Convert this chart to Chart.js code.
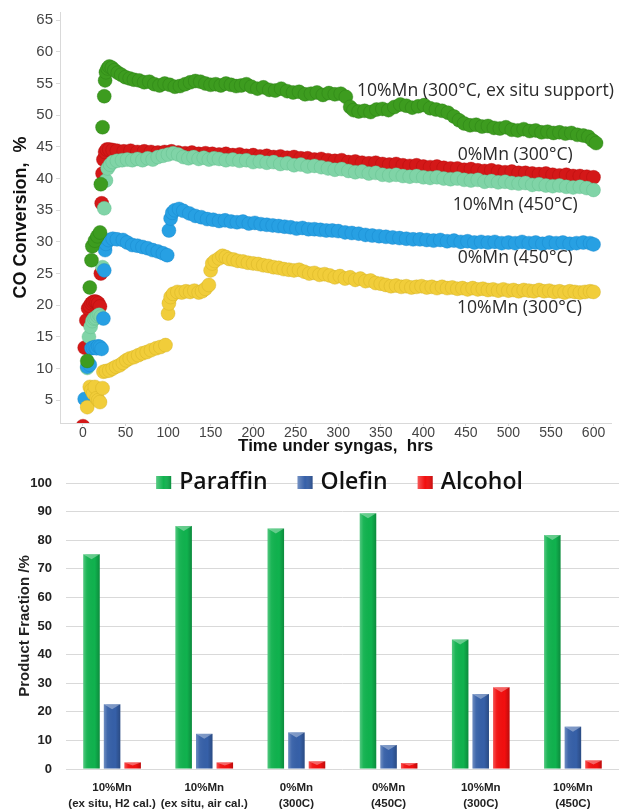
<!DOCTYPE html>
<html>
<head>
<meta charset="utf-8">
<script src="https://cdn.jsdelivr.net/npm/chart.js@4.4.1/dist/chart.umd.min.js"></script>
<style>
  html, body { margin: 0; padding: 0; background: #ffffff; }
  #wrap { position: relative; width: 619px; height: 810px; overflow: hidden; }
  #conv { position: absolute; left: 0; top: 0; }
  #frac { position: absolute; left: 0; top: 456px; }
</style>
</head>
<body>
<div id="wrap">
  <canvas id="conv" width="619" height="462"></canvas>
  <canvas id="frac" width="619" height="354"></canvas>
</div>
<script>
// ---------- CO conversion vs. time on stream ----------
const timeTicks = [0, 50, 100, 150, 200, 250, 300, 350, 400, 450, 500, 550, 600];
const convTicks = [5, 10, 15, 20, 25, 30, 35, 40, 45, 50, 55, 60, 65];

// 10%Mn (300°C, ex situ support)
const tExSitu = [5, 8, 10, 11, 14, 17, 20, 21, 23, 25, 26, 27, 29, 31, 34, 37, 41, 45, 50, 55, 60, 66, 72, 78, 84, 90, 96, 102, 108, 114, 120, 126, 132, 138, 144, 150, 156, 162, 168, 174, 180, 186, 192, 198, 205, 212, 219, 226, 233, 240, 247, 254, 261, 268, 275, 282, 289, 296, 303, 309, 314, 318, 324, 331, 338, 345, 352, 359, 366, 373, 380, 387, 394, 401, 408, 415, 422, 429, 436, 442, 448, 455, 462, 469, 476, 483, 490, 497, 504, 511, 518, 525, 532, 539, 546, 553, 560, 567, 574, 581, 588, 594, 599, 603];
const cExSitu = [11.2, 22.8, 27.1, 29.3, 30.2, 30.9, 31.5, 39.1, 48.1, 53.0, 55.5, 56.8, 57.4, 57.7, 57.5, 57.1, 56.7, 56.4, 56.0, 55.8, 55.6, 55.5, 55.2, 55.3, 54.9, 54.7, 55.0, 54.8, 54.5, 54.6, 54.9, 55.2, 55.4, 55.3, 55.0, 54.8, 54.9, 54.7, 55.0, 54.8, 54.6, 54.7, 54.9, 54.5, 54.2, 54.4, 54.0, 53.9, 54.2, 53.8, 53.6, 53.7, 53.3, 53.4, 53.6, 53.2, 53.5, 53.3, 53.4, 52.9, 51.3, 50.8, 50.6, 50.7, 50.5, 50.9, 51.0, 50.8, 51.3, 51.7, 51.5, 51.2, 51.4, 51.6, 51.1, 50.9, 50.7, 50.4, 49.8, 49.2, 48.7, 48.4, 48.5, 48.2, 48.3, 48.0, 47.9, 48.1, 47.7, 47.6, 47.8, 47.5, 47.6, 47.3, 47.4, 47.2, 47.3, 47.1, 47.2, 46.9, 46.8, 46.6, 46.0, 45.6];

// 0%Mn (300°C)
const tMn0Low = [0, 2, 4, 6, 8, 10, 12, 14, 16, 18, 20, 21, 22, 23, 24, 26, 28, 31, 35, 40, 48, 56, 64, 72, 80, 88, 96, 104, 112, 120, 128, 136, 144, 152, 160, 168, 176, 184, 192, 200, 208, 216, 224, 232, 240, 248, 256, 264, 272, 280, 288, 296, 304, 312, 320, 328, 336, 344, 352, 360, 368, 376, 384, 392, 400, 408, 416, 424, 432, 440, 448, 456, 464, 472, 480, 488, 496, 504, 512, 520, 528, 536, 544, 552, 560, 568, 576, 584, 592, 600];
const cMn0Low = [0.9, 13.3, 17.6, 19.5, 19.9, 20.3, 20.5, 20.6, 20.5, 20.3, 19.8, 25.0, 36.1, 40.8, 43.0, 44.2, 44.6, 44.6, 44.5, 44.4, 44.3, 44.4, 44.2, 44.3, 44.2, 44.1, 44.2, 44.3, 44.1, 44.0, 44.1, 43.9, 44.0, 43.9, 43.8, 43.9, 43.7, 43.8, 43.6, 43.7, 43.5, 43.6, 43.4, 43.5, 43.3, 43.4, 43.2, 43.2, 43.0, 43.1, 42.9, 42.8, 42.9, 42.6, 42.7, 42.5, 42.4, 42.5, 42.3, 42.2, 42.3, 42.1, 42.0, 42.1, 41.9, 41.8, 41.9, 41.7, 41.6, 41.6, 41.4, 41.5, 41.3, 41.2, 41.3, 41.1, 41.0, 41.1, 40.9, 40.9, 40.8, 40.7, 40.8, 40.6, 40.5, 40.6, 40.4, 40.4, 40.3, 40.2];

// 10%Mn (450°C)
const tMn10High = [5, 7, 9, 11, 13, 15, 17, 19, 21, 23, 25, 27, 29, 32, 35, 40, 46, 52, 58, 64, 70, 76, 82, 88, 94, 100, 106, 112, 118, 124, 130, 136, 142, 148, 154, 160, 168, 176, 184, 192, 200, 208, 216, 224, 232, 240, 248, 256, 264, 272, 280, 288, 296, 304, 312, 320, 328, 336, 344, 352, 360, 368, 376, 384, 392, 400, 408, 416, 424, 432, 440, 448, 456, 464, 472, 480, 488, 496, 504, 512, 520, 528, 536, 544, 552, 560, 568, 576, 584, 592, 600];
const cMn10High = [10.1, 15.0, 16.6, 17.5, 17.9, 18.0, 18.3, 18.5, 18.2, 26.0, 35.3, 39.7, 41.6, 42.2, 42.6, 42.8, 42.9, 43.0, 42.9, 43.1, 42.9, 43.2, 43.0, 43.4, 43.6, 43.8, 44.0, 43.8, 43.4, 43.2, 43.4, 43.1, 43.3, 43.0, 43.2, 43.1, 42.9, 43.0, 42.8, 42.9, 42.6, 42.7, 42.5, 42.6, 42.3, 42.4, 42.1, 42.2, 41.9, 42.0, 41.8, 41.6, 41.4, 41.5, 41.2, 41.0, 41.1, 40.8, 40.9, 40.6, 40.5, 40.6, 40.4, 40.3, 40.4, 40.2, 40.1, 40.2, 40.0, 39.9, 40.0, 39.8, 39.7, 39.8, 39.5, 39.6, 39.4, 39.5, 39.3, 39.2, 39.3, 39.0, 39.1, 38.9, 38.8, 38.9, 38.7, 38.6, 38.7, 38.5, 38.2];

// 0%Mn (450°C)
const tMn0High = [2, 5, 8, 10, 12, 14, 16, 18, 20, 22, 24, 25, 26, 27, 30, 35, 40, 47, 52, 58, 64, 70, 76, 82, 88, 94, 99, 101, 103, 105, 108, 113, 118, 125, 132, 139, 146, 153, 160, 167, 174, 181, 188, 195, 202, 209, 216, 223, 230, 237, 244, 251, 258, 265, 272, 279, 286, 293, 300, 308, 316, 324, 332, 340, 348, 356, 364, 372, 380, 388, 396, 404, 412, 420, 428, 436, 444, 452, 460, 468, 476, 484, 492, 500, 508, 516, 524, 532, 540, 548, 556, 564, 572, 580, 588, 596, 600];
const cMn0High = [5.2, 10.3, 10.6, 13.2, 13.3, 13.4, 13.2, 13.5, 13.4, 13.1, 17.9, 25.5, 28.7, 29.7, 30.3, 30.5, 30.4, 30.3, 29.9, 29.5, 29.4, 29.2, 29.0, 28.7, 28.5, 28.2, 27.9, 31.8, 33.7, 34.6, 35.0, 35.2, 34.9, 34.5, 34.1, 33.9, 33.6, 33.5, 33.3, 33.4, 33.2, 33.1, 33.2, 32.9, 33.0, 32.8, 32.7, 32.6, 32.5, 32.4, 32.3, 32.1, 32.2, 32.0, 32.0, 31.9, 31.8, 31.8, 31.7, 31.5, 31.4, 31.3, 31.1, 31.0, 30.9, 30.8, 30.7, 30.6, 30.5, 30.4, 30.4, 30.3, 30.2, 30.3, 30.1, 30.2, 30.0, 30.1, 29.9, 30.0, 29.9, 30.0, 29.8, 29.9, 29.8, 30.0, 29.8, 29.9, 29.7, 29.9, 29.8, 29.9, 29.7, 29.8, 29.9, 29.8, 29.6];

// 10%Mn (300°C)
const tMn10Low = [5, 8, 10, 12, 14, 16, 18, 20, 23, 24, 27, 31, 35, 39, 43, 47, 51, 55, 60, 65, 70, 75, 80, 86, 91, 97, 100, 101, 103, 106, 111, 116, 121, 126, 131, 136, 140, 144, 148, 150, 152, 155, 160, 164, 168, 172, 177, 182, 188, 194, 200, 206, 212, 218, 224, 230, 236, 242, 248, 254, 260, 266, 272, 278, 284, 290, 296, 302, 308, 314, 320, 326, 332, 338, 344, 350, 356, 362, 368, 374, 380, 386, 392, 398, 404, 410, 416, 422, 428, 434, 440, 446, 452, 458, 464, 470, 476, 482, 488, 494, 500, 506, 512, 518, 524, 530, 536, 542, 548, 554, 560, 566, 572, 578, 584, 590, 596, 600];
const cMn10Low = [3.9, 7.1, 6.6, 6.1, 7.1, 5.3, 5.0, 4.7, 6.9, 9.5, 9.6, 9.7, 10.0, 10.3, 10.5, 10.9, 11.3, 11.6, 11.8, 12.1, 12.4, 12.6, 12.9, 13.2, 13.4, 13.7, 18.7, 20.3, 21.3, 21.8, 22.1, 22.0, 22.2, 22.1, 22.3, 22.0, 22.2, 22.6, 23.2, 25.5, 26.6, 27.0, 27.4, 27.8, 27.6, 27.3, 27.2, 27.0, 26.9, 26.7, 26.6, 26.5, 26.3, 26.2, 26.0, 25.9, 25.7, 25.6, 25.5, 25.6, 25.3, 25.0, 25.1, 24.8, 24.9, 24.7, 24.4, 24.6, 24.2, 24.4, 24.0, 24.2, 23.8, 23.9, 23.5, 23.4, 23.2, 23.0, 23.1, 22.9, 23.0, 22.8, 22.9, 23.0, 22.8, 22.9, 22.7, 22.9, 22.7, 22.8, 22.6, 22.7, 22.5, 22.7, 22.5, 22.6, 22.4, 22.5, 22.3, 22.5, 22.3, 22.4, 22.2, 22.4, 22.3, 22.2, 22.4, 22.2, 22.3, 22.1, 22.2, 22.0, 22.2, 22.1, 22.0, 22.1, 22.2, 22.1];

// ---------- Product distribution ----------
const catalysts = [
  ['10%Mn', '(ex situ, H2 cal.)'],
  ['10%Mn', '(ex situ, air cal.)'],
  ['0%Mn', '(300C)'],
  ['0%Mn', '(450C)'],
  ['10%Mn', '(300C)'],
  ['10%Mn', '(450C)']
];
const paraffin = [75.1, 85.0, 84.1, 89.4, 45.3, 81.8];
const olefin   = [22.6, 12.3, 12.8, 8.4, 26.2, 14.8];
const alcohol  = [2.3, 2.3, 2.7, 2.1, 28.6, 3.0];
const fracTicks = [0, 10, 20, 30, 40, 50, 60, 70, 80, 90, 100];

// ---------- helpers ----------
const toPoints = (ts, cs) => ts.map((t, i) => ({ x: t, y: cs[i] }));
const fixedTicks = list => scale => { scale.ticks = list.map(v => ({ value: v })); };

// Series drawn first in this list end up on top.
const series = [
  { name: '10%Mn (300°C, ex situ support)', t: tExSitu,   c: cExSitu,   fill: '#3d9c1f', edge: 'rgba(40,120,20,0.6)' },
  { name: '10%Mn (300°C)',                  t: tMn10Low,  c: cMn10Low,  fill: '#f1cd3a', edge: 'rgba(205,170,30,0.6)' },
  { name: '0%Mn (450°C)',                   t: tMn0High,  c: cMn0High,  fill: '#27a0e3', edge: 'rgba(20,130,200,0.6)' },
  { name: '10%Mn (450°C)',                  t: tMn10High, c: cMn10High, fill: '#80d4a7', edge: 'rgba(90,185,135,0.6)' },
  { name: '0%Mn (300°C)',                   t: tMn0Low,   c: cMn0Low,   fill: '#d41818', edge: 'rgba(170,10,10,0.6)' }
];

// Curve labels, anchored in data units (time, conversion)
const curveNotes = [
  { text: '10%Mn (300°C, ex situ support)', at: [473, 53.9] },
  { text: '0%Mn (300°C)',  at: [508, 43.7] },
  { text: '10%Mn (450°C)', at: [508, 35.9] },
  { text: '0%Mn (450°C)',  at: [508, 27.4] },
  { text: '10%Mn (300°C)', at: [513, 19.5] }
];

const curveNotePlugin = {
  id: 'curveNotes',
  afterDatasetsDraw(chart) {
    const { ctx, scales: { x, y } } = chart;
    ctx.save();
    ctx.font = '17.6px "Open Sans"';
    ctx.fillStyle = '#2a2a2a';
    ctx.textAlign = 'center';
    ctx.textBaseline = 'middle';
    curveNotes.forEach(n => ctx.fillText(n.text, x.getPixelForValue(n.at[0]), y.getPixelForValue(n.at[1])));
    ctx.restore();
  }
};

new Chart(document.getElementById('conv'), {
  type: 'scatter',
  data: {
    datasets: series.map(s => ({
      label: s.name,
      data: toPoints(s.t, s.c),
      backgroundColor: s.fill,
      borderColor: s.edge,
      borderWidth: 0.6,
      pointRadius: 7,
      pointHoverRadius: 7
    }))
  },
  options: {
    responsive: false,
    animation: false,
    layout: { padding: { top: 12, right: 4, left: 0, bottom: 0 } },
    plugins: { legend: { display: false }, tooltip: { enabled: false } },
    scales: {
      x: {
        type: 'linear', min: -27, max: 621,
        afterBuildTicks: fixedTicks(timeTicks),
        afterFit: s => { s.height = 39; },
        grid: { drawOnChartArea: false, drawTicks: true, tickLength: 3, color: '#d9d9d9' },
        border: { color: '#d9d9d9' },
        ticks: { autoSkip: false, maxRotation: 0, padding: 0, color: '#444', font: { family: 'Liberation Sans', size: 14, lineHeight: 1 } },
        title: { display: true, text: 'Time under syngas,  hrs', color: '#111',
                 font: { family: 'Liberation Sans', size: 17, weight: 'bold', lineHeight: 1 }, padding: { top: 0, bottom: 7 } }
      },
      y: {
        type: 'linear', min: 1.4, max: 66.3,
        afterBuildTicks: fixedTicks(convTicks),
        afterFit: s => { s.width = 60; },
        grid: { drawOnChartArea: false, drawTicks: true, tickLength: 4, color: '#d9d9d9' },
        border: { color: '#d9d9d9' },
        ticks: { padding: 3, color: '#444', font: { family: 'Liberation Sans', size: 15 } },
        title: { display: true, text: 'CO Conversion,  %', color: '#111',
                 font: { family: 'Liberation Sans', size: 18, weight: 'bold' }, padding: { top: 10, bottom: 0 } }
      }
    }
  },
  plugins: [curveNotePlugin]
});

// Bevel shading for the 3-D look of the bars
const barBevelPlugin = {
  id: 'barBevel',
  afterDatasetsDraw(chart) {
    const ctx = chart.ctx;
    ctx.save();
    chart.data.datasets.forEach((ds, di) => {
      chart.getDatasetMeta(di).data.forEach(bar => {
        const { x, y, base, width } = bar.getProps(['x', 'y', 'base', 'width'], true);
        const l = x - width / 2, r = x + width / 2;
        const g = ctx.createLinearGradient(l, 0, r, 0);
        g.addColorStop(0, 'rgba(255,255,255,0.28)');
        g.addColorStop(0.22, 'rgba(255,255,255,0.05)');
        g.addColorStop(0.7, 'rgba(0,0,0,0)');
        g.addColorStop(1, 'rgba(0,0,0,0.22)');
        ctx.fillStyle = g;
        ctx.fillRect(l, y, width, base - y);
        const cap = Math.min(5, (base - y) / 2);
        ctx.beginPath();
        ctx.moveTo(l, y);
        ctx.lineTo(r, y);
        ctx.lineTo(x, y + cap);
        ctx.closePath();
        ctx.fillStyle = 'rgba(255,255,255,0.35)';
        ctx.fill();
      });
    });
    ctx.restore();
  }
};

// Legend drawn across the top of the plot
const topLegendPlugin = {
  id: 'topLegend',
  afterDraw(chart) {
    const { ctx, chartArea } = chart;
    const box = 15, gap = 8, spacing = 30;
    ctx.save();
    ctx.font = '600 23px "Open Sans"';
    const items = chart.data.datasets.map(d => ({ label: d.label, color: d.backgroundColor, w: ctx.measureText(d.label).width }));
    const total = items.reduce((a, it) => a + box + gap + it.w, 0) + spacing * (items.length - 1);
    let cx = (chartArea.left + chartArea.right) / 2 - 3 - total / 2;
    const cy = chartArea.top - 1;
    items.forEach(it => {
      ctx.fillStyle = it.color;
      ctx.fillRect(cx, cy - 6, box, 13);
      const g = ctx.createLinearGradient(cx, 0, cx + box, 0);
      g.addColorStop(0, 'rgba(255,255,255,0.3)');
      g.addColorStop(0.5, 'rgba(255,255,255,0)');
      g.addColorStop(1, 'rgba(0,0,0,0.2)');
      ctx.fillStyle = g;
      ctx.fillRect(cx, cy - 6, box, 13);
      ctx.fillStyle = '#111';
      ctx.textAlign = 'left';
      ctx.textBaseline = 'middle';
      ctx.fillText(it.label, cx + box + gap, cy);
      cx += box + gap + it.w + spacing;
    });
    ctx.restore();
  }
};

new Chart(document.getElementById('frac'), {
  type: 'bar',
  data: {
    labels: catalysts,
    datasets: [
      { label: 'Paraffin', data: paraffin, backgroundColor: '#10b24e' },
      { label: 'Olefin',   data: olefin,   backgroundColor: '#3660a8' },
      { label: 'Alcohol',  data: alcohol,  backgroundColor: '#f20f0f' }
    ]
  },
  options: {
    responsive: false,
    animation: false,
    layout: { padding: { top: 27, right: 0, left: 0, bottom: 0 } },
    datasets: { bar: { categoryPercentage: 0.67, barPercentage: 0.8 } },
    plugins: { legend: { display: false }, tooltip: { enabled: false } },
    scales: {
      x: {
        grid: { display: false },
        border: { display: false },
        afterFit: s => { s.height = 41; },
        ticks: { autoSkip: false, maxRotation: 0, padding: 3, color: '#222',
                 font: { family: 'Liberation Sans', size: 11.5, weight: 'bold', lineHeight: 1.38 } }
      },
      y: {
        min: 0, max: 100,
        afterBuildTicks: fixedTicks(fracTicks),
        afterFit: s => { s.width = 66; },
        grid: { color: '#d9d9d9', drawTicks: false },
        border: { display: false },
        ticks: { padding: 14, color: '#222', font: { family: 'Liberation Sans', size: 13, weight: 'bold' } },
        title: { display: true, text: 'Product Fraction /%', color: '#222',
                 font: { family: 'Liberation Sans', size: 15, weight: 'bold' }, padding: { top: 16, bottom: 0 } }
      }
    }
  },
  plugins: [barBevelPlugin, topLegendPlugin]
});
</script>
</body>
</html>
